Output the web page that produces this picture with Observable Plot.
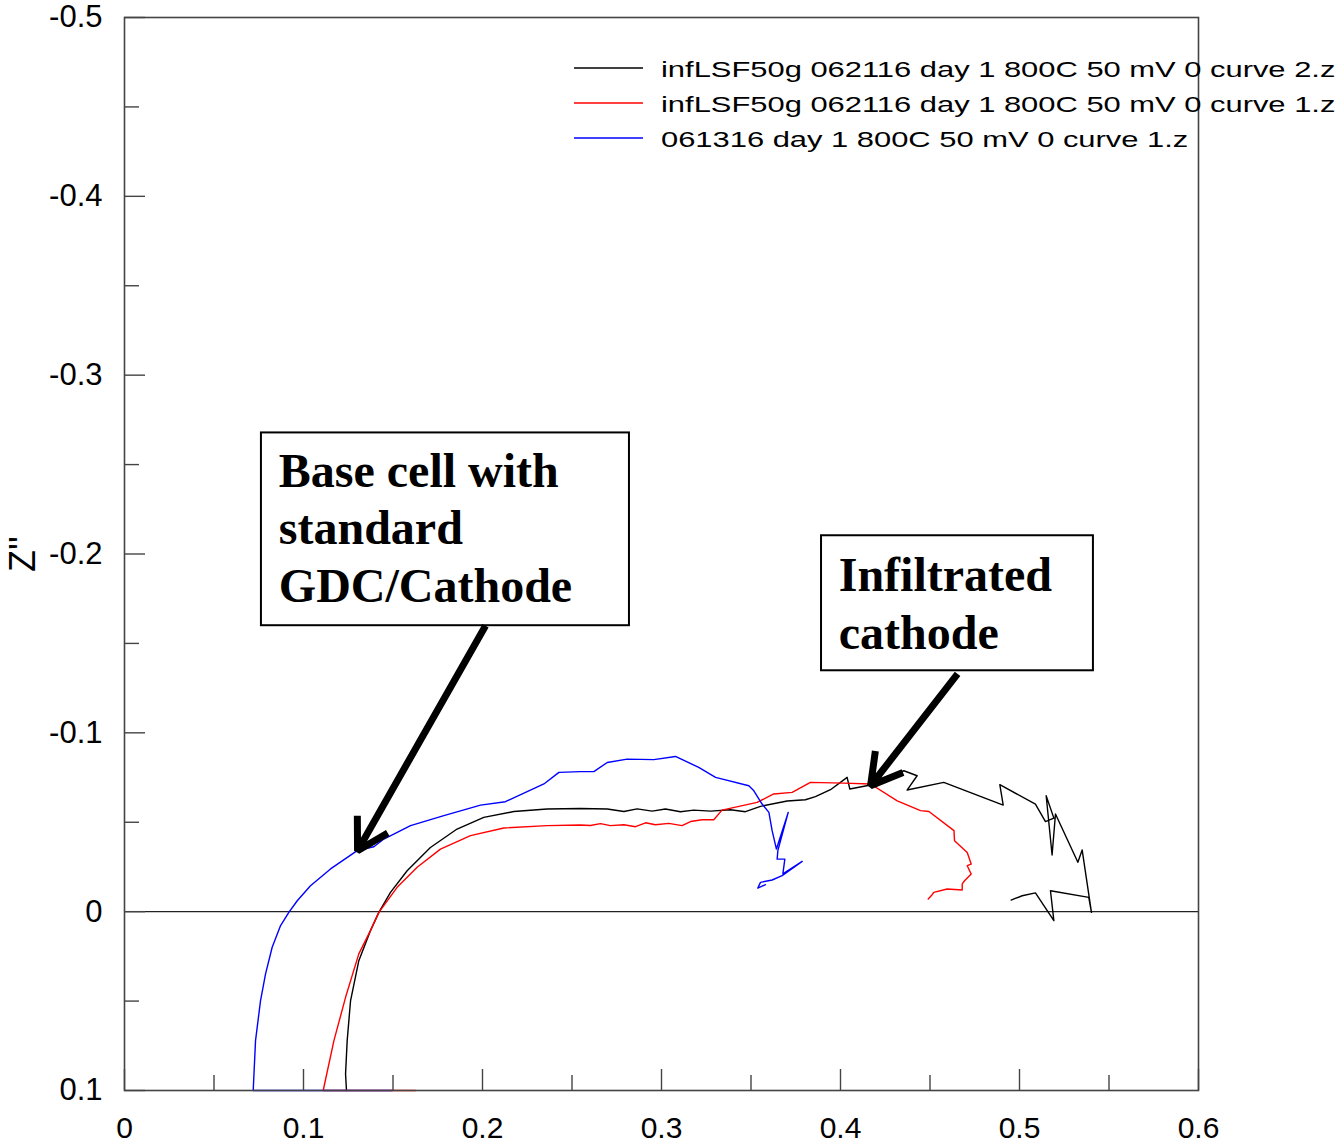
<!DOCTYPE html>
<html><head><meta charset="utf-8">
<script src="https://cdn.jsdelivr.net/npm/d3@7"></script>
<script src="https://cdn.jsdelivr.net/npm/@observablehq/plot@0.6"></script>
<style>
body{margin:0;background:#fff;}
#chart{position:relative;width:1342px;height:1144px;}
</style>
</head><body><div id="chart"></div>
<script>
// ---- series ----
const seriesNames = [
  "infLSF50g 062116 day 1 800C 50 mV 0 curve 2.z",
  "infLSF50g 062116 day 1 800C 50 mV 0 curve 1.z",
  "061316 day 1 800C 50 mV 0 curve 1.z"
];
const seriesColors = ["#000000", "#ff0000", "#0000ff"];

const blackX = [0.1240,0.1235,0.1244,0.1263,0.1309,0.1374,0.1421,0.1486,0.1579,0.1709,0.1858,0.2007,0.2175,0.2361,0.2547,0.2697,0.2790,0.2864,0.2948,0.3022,0.3106,0.3180,0.3274,0.3385,0.3469,0.3553,0.3702,0.3804,0.3860,0.3944,0.4037,0.4052,0.4168,0.4354,0.4428,0.4372,0.4577,0.4909,0.4890,0.5089,0.5145,0.5192,0.5149,0.5182,0.5201,0.5326,0.5350,0.5402,0.5387,0.5173,0.5192,0.5089,0.5015,0.4953];
const blackY = [0.1000,0.0907,0.0721,0.0497,0.0274,0.0106,0.0004,-0.0108,-0.0229,-0.0359,-0.0462,-0.0527,-0.0560,-0.0574,-0.0577,-0.0574,-0.0560,-0.0575,-0.0562,-0.0574,-0.0559,-0.0568,-0.0562,-0.0570,-0.0559,-0.0589,-0.0619,-0.0626,-0.0643,-0.0682,-0.0751,-0.0686,-0.0708,-0.0788,-0.0760,-0.0680,-0.0723,-0.0596,-0.0710,-0.0601,-0.0504,-0.0523,-0.0648,-0.0317,-0.0546,-0.0276,-0.0345,0.0004,-0.0080,-0.0117,0.0050,-0.0105,-0.0089,-0.0065];

const redX = [0.1626,0.1110,0.1170,0.1235,0.1309,0.1374,0.1421,0.1523,0.1635,0.1765,0.1933,0.2119,0.2361,0.2547,0.2603,0.2659,0.2715,0.2790,0.2855,0.2911,0.2966,0.3041,0.3115,0.3162,0.3227,0.3292,0.3338,0.3534,0.3627,0.3730,0.3832,0.4018,0.4168,0.4317,0.4447,0.4494,0.4634,0.4637,0.4708,0.4730,0.4708,0.4730,0.4693,0.4680,0.4680,0.4596,0.4521,0.4512,0.4490];
const redY = [0.1000,0.1000,0.0721,0.0479,0.0236,0.0106,0.0004,-0.0136,-0.0248,-0.0350,-0.0425,-0.0468,-0.0481,-0.0485,-0.0482,-0.0492,-0.0481,-0.0486,-0.0475,-0.0497,-0.0486,-0.0494,-0.0481,-0.0504,-0.0514,-0.0514,-0.0568,-0.0611,-0.0658,-0.0667,-0.0723,-0.0719,-0.0714,-0.0620,-0.0565,-0.0560,-0.0453,-0.0397,-0.0331,-0.0266,-0.0257,-0.0211,-0.0173,-0.0155,-0.0121,-0.0127,-0.0108,-0.0095,-0.0071];

const blueX = [0.1496,0.0719,0.0732,0.0760,0.0788,0.0825,0.0872,0.0918,0.0965,0.1039,0.1151,0.1300,0.1393,0.1449,0.1598,0.1784,0.1989,0.2128,0.2343,0.2427,0.2547,0.2622,0.2697,0.2808,0.2957,0.3078,0.3208,0.3302,0.3488,0.3516,0.3562,0.3600,0.3618,0.3642,0.3708,0.3650,0.3646,0.3689,0.3678,0.3786,0.3674,0.3618,0.3553,0.3538,0.3581];
const blueY = [0.1000,0.1000,0.0721,0.0497,0.0348,0.0199,0.0078,0.0004,-0.0061,-0.0145,-0.0239,-0.0341,-0.0363,-0.0406,-0.0481,-0.0537,-0.0596,-0.0615,-0.0714,-0.0779,-0.0783,-0.0783,-0.0834,-0.0853,-0.0850,-0.0868,-0.0807,-0.0751,-0.0704,-0.0676,-0.0602,-0.0555,-0.0453,-0.0350,-0.0555,-0.0341,-0.0294,-0.0294,-0.0211,-0.0281,-0.0201,-0.0177,-0.0164,-0.0132,-0.0151];

// ---- axes ----
const xTicks = [0, 0.1, 0.2, 0.3, 0.4, 0.5, 0.6];
const xMinorTicks = [0.05, 0.15, 0.25, 0.35, 0.45, 0.55];
const yTicks = [-0.5, -0.4, -0.3, -0.2, -0.1, 0, 0.1];
const yMinorTicks = [-0.45, -0.35, -0.25, -0.15, -0.05, 0.05];
const yAxisLabel = "Z''";

// ---- annotations ----
const boxLabels = ["Base cell with\nstandard\nGDC/Cathode", "Infiltrated\ncathode"];
const boxX1 = [0.0765, 0.3894];
const boxX2 = [0.2821, 0.5413];
const boxY1 = [-0.2677, -0.2102];
const boxY2 = [-0.1599, -0.1347];
const boxTextX = [0.0862, 0.3990];
const boxTextY = [-0.2605, -0.2020];
const arrowX1 = [0.2017, 0.4654];
const arrowY1 = [-0.1599, -0.1330];
const arrowX2 = [0.1302, 0.4168];
const arrowY2 = [-0.0341, -0.0704];

// ---- build tables ----
const toRows = (xs, ys, s) => xs.map((x, i) => ({x, y: ys[i], series: s}));
const blackRows = toRows(blackX, blackY, seriesNames[0]);
const redRows = toRows(redX, redY, seriesNames[1]);
const blueRows = toRows(blueX, blueY, seriesNames[2]);
const boxes = boxLabels.map((label, i) => ({label, x1: boxX1[i], x2: boxX2[i], y1: boxY1[i], y2: boxY2[i], tx: boxTextX[i], ty: boxTextY[i]}));
const arrows = arrowX1.map((x1, i) => ({x1, y1: arrowY1[i], x2: arrowX2[i], y2: arrowY2[i]}));

const axisColor = "#444";
const sansFont = "'Liberation Sans', Arial, Helvetica, sans-serif";
const fmt = d => String(d);

const chart = Plot.plot({
  width: 1342,
  height: 1144,
  marginLeft: 124,
  marginRight: 144,
  marginTop: 17,
  marginBottom: 54,
  style: {fontFamily: sansFont, background: "white", color: "black"},
  x: {domain: [0, 0.6]},
  y: {domain: [0.1, -0.5]},
  color: {domain: seriesNames, range: seriesColors},
  marks: [
    Plot.ruleY([0], {stroke: "#222", strokeWidth: 1.4}),
    Plot.line(blackRows, {x: "x", y: "y", stroke: seriesColors[0], strokeWidth: 1.4}),
    Plot.line(redRows, {x: "x", y: "y", stroke: seriesColors[1], strokeWidth: 1.4}),
    Plot.line(blueRows, {x: "x", y: "y", stroke: seriesColors[2], strokeWidth: 1.4}),
    Plot.frame({stroke: axisColor, strokeWidth: 1.6}),
    Plot.axisX({ticks: xTicks, tickSize: -21, fill: "none", stroke: axisColor, strokeWidth: 1.4, label: null}),
    Plot.axisX({ticks: xMinorTicks, tickSize: -15, fill: "none", stroke: axisColor, strokeWidth: 1.4, label: null}),
    Plot.axisX({ticks: xTicks, tickSize: 0, tickPadding: 26, tickFormat: fmt, fontSize: 30, fill: "black", label: null}),
    Plot.axisY({ticks: yTicks, tickSize: -21, fill: "none", stroke: axisColor, strokeWidth: 1.4, label: null}),
    Plot.axisY({ticks: yMinorTicks, tickSize: -15, fill: "none", stroke: axisColor, strokeWidth: 1.4, label: null}),
    Plot.axisY({ticks: yTicks, tickSize: 0, tickPadding: 22, tickFormat: fmt, fontSize: 31, fill: "black", label: null}),
    Plot.text([yAxisLabel], {frameAnchor: "left", dx: -101, rotate: -90, fontSize: 36, textAnchor: "middle", lineAnchor: "middle", fill: "black"}),
    Plot.rect(boxes, {x1: "x1", x2: "x2", y1: "y1", y2: "y2", fill: "white", stroke: "black", strokeWidth: 2}),
    Plot.text(boxes, {x: "tx", y: "ty", text: "label", textAnchor: "start", lineAnchor: "top", lineHeight: 1.2, fontSize: 48, fontWeight: "bold", fontFamily: "'Liberation Serif', 'Times New Roman', serif", fill: "black"}),
    Plot.arrow(arrows, {x1: "x1", y1: "y1", x2: "x2", y2: "y2", stroke: "black", strokeWidth: 7, headLength: 7.5, headAngle: 60, strokeLinejoin: "miter", strokeLinecap: "butt"})
  ]
});

// legend (inside plot, top right)
const svg = d3.select(chart);
const lg = svg.append("g").attr("class", "legend");
seriesNames.forEach((name, i) => {
  const cy = 68 + 35 * i;
  lg.append("line").attr("x1", 574).attr("x2", 643).attr("y1", cy).attr("y2", cy)
    .attr("stroke", seriesColors[i]).attr("stroke-width", 1.4);
  lg.append("text").attr("transform", `translate(661,${cy + 9}) scale(1.405,1)`)
    .attr("text-anchor", "start")
    .attr("font-family", sansFont)
    .attr("font-size", 22).attr("fill", "black").text(name);
});

document.getElementById("chart").appendChild(chart);
</script>
</body></html>
